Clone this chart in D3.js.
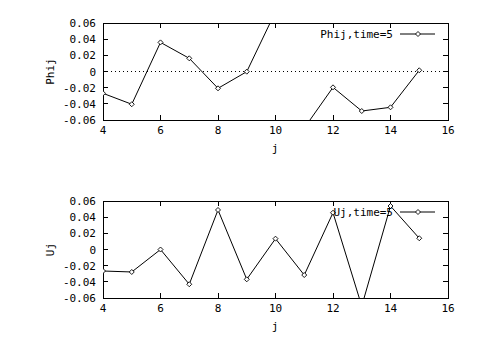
<!DOCTYPE html>
<html><head><meta charset="utf-8">
<script src="https://cdn.jsdelivr.net/npm/d3@7"></script>
<style>body{margin:0;background:#fff}</style>
</head><body>
<script>
const jValues = [4,5,6,7,8,9,10,11,12,13,14,15];
const phiValues = [-0.027,-0.0405,0.036,0.0163,-0.0208,-0.0002,0.074,-0.070,-0.0196,-0.0489,-0.0443,0.0015];
const uValues = [-0.0266,-0.0278,0.0,-0.043,0.0489,-0.0369,0.0134,-0.0316,0.0455,-0.070,0.0538,0.0139];
const xTicks = [4,6,8,10,12,14,16];
const yTicks = [-0.06,-0.04,-0.02,0,0.02,0.04,0.06];
const yTickLabels = ["-0.06","-0.04","-0.02","0","0.02","0.04","0.06"];

const W=480,H=360;
const svg=d3.select("body").append("svg").attr("width",W).attr("height",H).style("font-family","'DejaVu Sans Mono',monospace").style("font-size","11px");
svg.append("rect").attr("width",W).attr("height",H).attr("fill","#fff");

const x=d3.scaleLinear().domain([4,16]).range([103,448]);
const dpath="M0,-2.5L2.5,0L0,2.5L-2.5,0Z";

function panel(top,bottom,vals,ylabel,legend,zeroLine,id){
  const y=d3.scaleLinear().domain([-0.06,0.06]).range([bottom,top]);
  const g=svg.append("g");
  g.append("clipPath").attr("id",id).append("rect").attr("x",103).attr("y",top).attr("width",345).attr("height",bottom-top);
  if(zeroLine){
    g.append("line").attr("x1",x(4)).attr("x2",x(16)).attr("y1",y(0)).attr("y2",y(0))
      .attr("stroke","#000").attr("stroke-dasharray","1,3").attr("shape-rendering","crispEdges");
  }
  const tl=5;
  xTicks.forEach(t=>{
    g.append("line").attr("x1",x(t)).attr("x2",x(t)).attr("y1",bottom).attr("y2",bottom-tl).attr("stroke","#000").attr("shape-rendering","crispEdges");
    g.append("line").attr("x1",x(t)).attr("x2",x(t)).attr("y1",top).attr("y2",top+tl).attr("stroke","#000").attr("shape-rendering","crispEdges");
    g.append("text").attr("x",x(t)).attr("y",bottom+14).attr("text-anchor","middle").text(t);
  });
  yTicks.forEach((t,i)=>{
    g.append("line").attr("x1",x(4)).attr("x2",x(4)+tl).attr("y1",y(t)).attr("y2",y(t)).attr("stroke","#000").attr("shape-rendering","crispEdges");
    g.append("line").attr("x1",x(16)).attr("x2",x(16)-tl).attr("y1",y(t)).attr("y2",y(t)).attr("stroke","#000").attr("shape-rendering","crispEdges");
    g.append("text").attr("x",96).attr("y",y(t)+4).attr("text-anchor","end").text(yTickLabels[i]);
  });
  g.append("rect").attr("x",x(4)).attr("y",top).attr("width",x(16)-x(4)).attr("height",bottom-top)
    .attr("fill","none").attr("stroke","#000").attr("shape-rendering","crispEdges");
  const data=jValues.map((j,i)=>[j,vals[i]]);
  const inR=d=>d[1]>=-0.06&&d[1]<=0.06;
  const segs=[];
  for(let i=0;i<data.length-1;i++){ if(inR(data[i])||inR(data[i+1])) segs.push([data[i],data[i+1]]); }
  const line=d3.line().x(d=>x(d[0])).y(d=>y(d[1]));
  const dg=g.append("g").attr("clip-path",`url(#${id})`);
  dg.selectAll("path.seg").data(segs).join("path").attr("class","seg").attr("d",line)
    .attr("fill","none").attr("stroke","#000").attr("stroke-width",1);
  dg.selectAll("path.pt").data(data.filter(inR)).join("path").attr("class","pt")
    .attr("d",dpath).attr("transform",d=>`translate(${x(d[0])},${y(d[1])})`).attr("fill","#fff").attr("stroke","#000").attr("stroke-width",0.9);
  const ly=top+11;
  g.append("text").attr("x",393).attr("y",ly+4).attr("text-anchor","end").text(legend);
  g.append("line").attr("x1",400).attr("x2",435).attr("y1",ly).attr("y2",ly).attr("stroke","#000");
  g.append("path").attr("d",dpath).attr("transform",`translate(418,${ly})`).attr("fill","#fff").attr("stroke","#000").attr("stroke-width",0.9);
  g.append("text").attr("transform",`translate(54,${(top+bottom)/2}) rotate(-90)`).attr("text-anchor","middle").text(ylabel);
  g.append("text").attr("x",275).attr("y",bottom+32).attr("text-anchor","middle").text("j");
}
panel(23,120,phiValues,"Phij","Phij,time=5",true,"c1");
panel(201,298,uValues,"Uj","Uj,time=5",false,"c2");
</script>
</body></html>
